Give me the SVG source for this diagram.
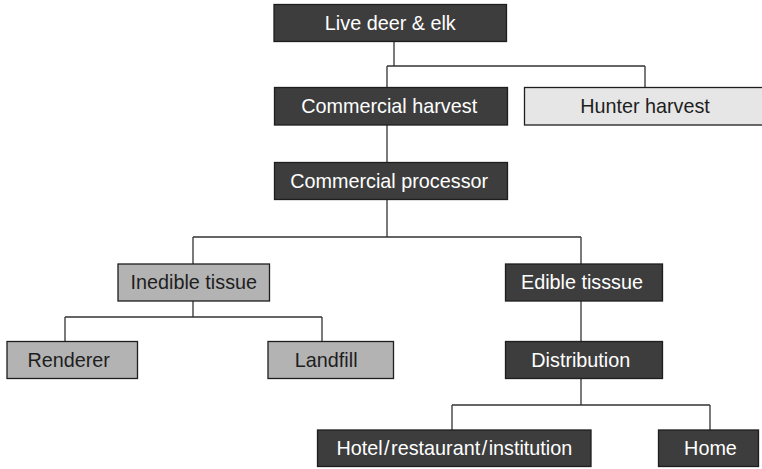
<svg xmlns="http://www.w3.org/2000/svg" width="762" height="469" viewBox="0 0 762 469">
<style>
.box{stroke:#1e1e1e;stroke-width:1.3}
.dark{fill:#3d3d3d}
.mid{fill:#b3b3b3}
.light{fill:#e6e6e6}
text{font-family:"Liberation Sans",Arial,sans-serif;font-size:19.8px;text-anchor:middle}
.tw{fill:#ffffff}
.tb{fill:#1e1e1e}
.conn{stroke:#333333;stroke-width:1.3;fill:none}
</style>
<rect width="762" height="469" fill="#ffffff"/>
<g id="connectors">
<path class="conn" d="M394,41.5 V66 M387,66 H645 M387,66 V87 M645,66 V87"/>
<path class="conn" d="M387,125 V162"/>
<path class="conn" d="M387,199 V237 M193,237 H581 M193,237 V264 M581,237 V264"/>
<path class="conn" d="M193,301 V317 M65,317 H322 M65,317 V341.5 M322,317 V341.5"/>
<path class="conn" d="M581,301 V341.5"/>
<path class="conn" d="M581,378.5 V405 M452,405 H710 M452,405 V430 M710,405 V430"/>
</g>
<g id="live"><rect class="box dark" x="274" y="4.5" width="232.5" height="37"/><text class="tw" x="390.3" y="29.8">Live deer &amp; elk</text></g>
<g id="commercial-harvest"><rect class="box dark" x="274.5" y="87.5" width="233" height="37.5"/><text class="tw" x="389.2" y="112.8">Commercial harvest</text></g>
<g id="hunter-harvest"><rect class="box light" x="524.5" y="87.5" width="250" height="37.5"/><text class="tb" x="645" y="112.8">Hunter harvest</text></g>
<g id="commercial-processor"><rect class="box dark" x="274.5" y="162.5" width="233" height="37"/><text class="tw" x="389.2" y="187.8">Commercial processor</text></g>
<g id="inedible"><rect class="box mid" x="118" y="264" width="151.5" height="37"/><text class="tb" x="193.8" y="289.3">Inedible tissue</text></g>
<g id="edible"><rect class="box dark" x="505.5" y="264" width="157" height="37"/><text class="tw" x="582" y="289.3">Edible tisssue</text></g>
<g id="renderer"><rect class="box mid" x="7" y="341.5" width="130.5" height="37"/><text class="tb" x="68.7" y="366.8">Renderer</text></g>
<g id="landfill"><rect class="box mid" x="268" y="341.5" width="125.5" height="37"/><text class="tb" x="326.2" y="366.8">Landfill</text></g>
<g id="distribution"><rect class="box dark" x="505.5" y="341.5" width="157" height="37"/><text class="tw" x="580.8" y="366.8">Distribution</text></g>
<g id="hotel"><rect class="box dark" x="317.5" y="430" width="273.5" height="36.5"/><text class="tw" x="454.3" y="455.3">Hotel<tspan dx="1.5">/</tspan><tspan dx="1.5">restaurant</tspan><tspan dx="1.5">/</tspan><tspan dx="1.5">institution</tspan></text></g>
<g id="home"><rect class="box dark" x="658.5" y="430" width="100" height="36.5"/><text class="tw" x="710.5" y="455.3">Home</text></g>
</svg>
